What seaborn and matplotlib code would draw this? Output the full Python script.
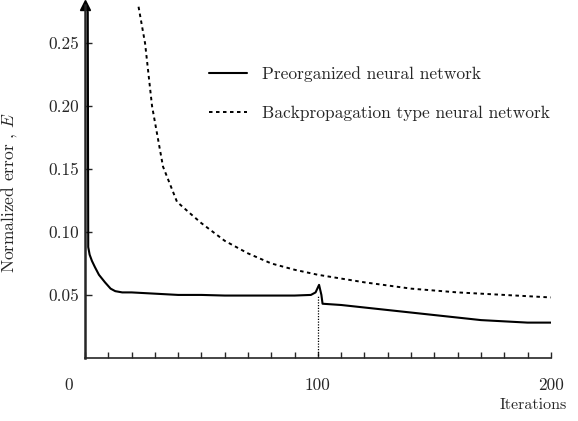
import numpy as np
import pandas as pd
import seaborn as sns
import matplotlib
matplotlib.use("Agg")
import matplotlib.pyplot as plt
from matplotlib.transforms import ScaledTranslation

# ---- data ----
pre_x = [1.2, 1.4, 2, 3, 4.3, 6, 8.6, 11, 13, 16, 20, 30, 40, 50, 60, 70, 80, 90,
         97, 99, 100.5, 101.5, 102, 110, 120, 130, 140, 150, 160, 170, 180, 190, 200]
pre_y = [0.275, 0.088, 0.082, 0.077, 0.072, 0.066, 0.060, 0.055, 0.053, 0.052, 0.052,
         0.051, 0.050, 0.050, 0.0495, 0.0495, 0.0495, 0.0495,
         0.050, 0.052, 0.058, 0.050, 0.043, 0.042, 0.040, 0.038, 0.036, 0.034,
         0.032, 0.030, 0.029, 0.028, 0.028]

bp_x = [23, 25.8, 28.8, 33.5, 39.5, 45, 50, 60, 70, 80, 90, 100, 120, 140, 160, 180, 200]
bp_y = [0.279, 0.250, 0.200, 0.152, 0.124, 0.115, 0.107, 0.093, 0.083, 0.075, 0.070,
        0.066, 0.060, 0.055, 0.052, 0.050, 0.048]

series_labels = ["Preorganized neural network", "Backpropagation type neural network"]
x_tick_values = [0, 100, 200]
y_tick_values = [0.05, 0.10, 0.15, 0.20, 0.25]

sns.set_style("ticks")
plt.rcParams["font.family"] = ["cmr10", "DejaVu Serif"]
plt.rcParams["mathtext.fontset"] = "cm"
plt.rcParams["axes.formatter.use_mathtext"] = True

fig = plt.figure(figsize=(5.78, 4.21), dpi=100)
ax = fig.add_axes([0.147, 0.150, 0.806, 0.837])

df_pre = pd.DataFrame({"x": pre_x, "y": pre_y})
df_bp = pd.DataFrame({"x": bp_x, "y": bp_y})

sns.lineplot(data=df_pre, x="x", y="y", ax=ax, color="black", lw=1.5,
             label=series_labels[0], sort=False)
sns.lineplot(data=df_bp, x="x", y="y", ax=ax, color="black", lw=1.4,
             dashes=False, label=series_labels[1], sort=False)
ax.lines[1].set_dashes([1.8, 1.8])

# dotted vertical marker at iteration 100
ax.plot([100, 100], [0, 0.05], color="black", lw=0.9, ls=(0, (1, 1.2)))

ax.set_xlim(0, 200)
ax.set_ylim(0, 0.28)

ax.set_xticks(np.arange(0, 201, 10))
ax.set_xticklabels([str(v) if v in x_tick_values else "" for v in range(0, 201, 10)])
ax.set_yticks(y_tick_values)
ax.set_yticklabels([f"{v:.2f}" for v in y_tick_values])
ax.tick_params(axis="x", direction="in", length=4, width=1, pad=14, labelsize=12.5)
ax.tick_params(axis="y", direction="in", length=5, width=1, pad=4, labelsize=12.5)

for lab in ax.get_xticklabels():
    if lab.get_text() == "0":
        lab.set_transform(lab.get_transform() + ScaledTranslation(-0.16, 0, fig.dpi_scale_trans))

sns.despine(ax=ax)
ax.spines["left"].set_linewidth(1.8)
ax.spines["bottom"].set_linewidth(1.2)
ax.plot(0, 1, marker="^", color="black", markersize=7, transform=ax.get_xaxis_transform(),
        clip_on=False)

ax.set_xlabel("")
ax.set_ylabel(r"Normalized error , $E$", fontsize=12.5)
ax.yaxis.set_label_coords(-0.142, 0.468)
fig.text(0.981, 0.021, "Iterations", ha="right", va="bottom", fontsize=11.5)

leg = ax.legend(loc="upper left", bbox_to_anchor=(0.232, 0.872), frameon=False,
                fontsize=12.5, handlelength=2.2, handletextpad=0.85, labelspacing=1.35)

fig.savefig("out.png", dpi=100)
